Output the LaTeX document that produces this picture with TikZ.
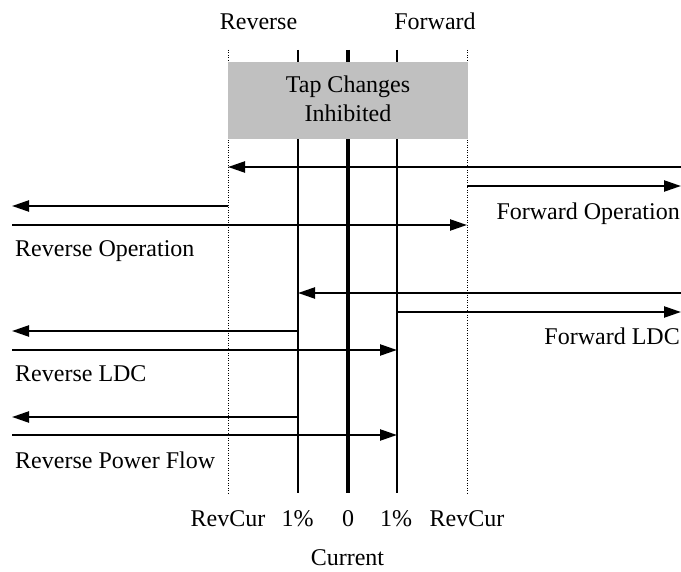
\documentclass[tikz,border=0pt]{standalone}
\usepackage{fontspec}
\setmainfont{Liberation Serif}
\usetikzlibrary{arrows.meta}
\begin{document}
\begin{tikzpicture}[x=1pt,y=-1pt,
  flow/.style={line width=2.3pt,-{Triangle[length=17pt,width=11pt]}},
  limit/.style={line width=1pt,dash pattern=on 1pt off 1.5pt},
  band/.style={line width=2pt},
  zero/.style={line width=3.5pt},
  lbl/.style={font=\fontsize{24}{29}\selectfont,inner sep=0pt}]
\useasboundingbox (0,0) rectangle (681,572);

% column positions (top and bottom of each threshold line)
\coordinate (rl-t) at (228,50);  \coordinate (rl-b) at (228,493);
\coordinate (pl-t) at (298,50);  \coordinate (pl-b) at (298,493);
\coordinate (z-t)  at (348,50);  \coordinate (z-b)  at (348,493);
\coordinate (pr-t) at (397,50);  \coordinate (pr-b) at (397,493);
\coordinate (rr-t) at (467,50);  \coordinate (rr-b) at (467,493);

% threshold lines
\draw[limit] (rl-t) -- (rl-b);
\draw[limit] (rr-t) -- (rr-b);
\draw[band] (pl-t) -- (pl-b);
\draw[band] (pr-t) -- (pr-b);
\draw[zero] (z-t) -- (z-b);

% dead band
\node[fill={rgb,255:red,192;green,192;blue,192},minimum width=240pt,minimum height=77pt,
      inner sep=0pt,anchor=north west] (dead) at (228,62) {};
\node[lbl,align=center] (deadtxt) at (348,99) {Tap Changes\\Inhibited};

% direction headings
\node[lbl,anchor=base] (hrev) at (258.5,30) {Reverse};
\node[lbl,anchor=base] (hfwd) at (435,30) {Forward};

% end points of the operating ranges
\coordinate (o1r) at (681,167); \coordinate (o1l) at (228,167);
\coordinate (o2l) at (467,186); \coordinate (o2r) at (681,186);
\coordinate (o3r) at (228,206); \coordinate (o3l) at (12,206);
\coordinate (o4l) at (12,225);  \coordinate (o4r) at (467,225);
\coordinate (d1r) at (681,293); \coordinate (d1l) at (298,293);
\coordinate (d2l) at (397,312); \coordinate (d2r) at (681,312);
\coordinate (d3r) at (298,331); \coordinate (d3l) at (12,331);
\coordinate (d4l) at (12,350);  \coordinate (d4r) at (397,350);
\coordinate (p1r) at (298,417); \coordinate (p1l) at (12,417);
\coordinate (p2l) at (12,435);  \coordinate (p2r) at (397,435);

% forward / reverse operation
\draw[flow] (o1r) -- (o1l);
\draw[flow] (o2l) -- (o2r);
\draw[flow] (o3r) -- (o3l);
\draw[flow] (o4l) -- (o4r);
\node[lbl,anchor=base east] (tfo) at (680,220) {Forward Operation};
\node[lbl,anchor=base west] (tro) at (15,257) {Reverse Operation};

% line drop compensation
\draw[flow] (d1r) -- (d1l);
\draw[flow] (d2l) -- (d2r);
\draw[flow] (d3r) -- (d3l);
\draw[flow] (d4l) -- (d4r);
\node[lbl,anchor=base east] (tfl) at (680,345) {Forward LDC};
\node[lbl,anchor=base west] (trl) at (15,382) {Reverse LDC};

% reverse power flow
\draw[flow] (p1r) -- (p1l);
\draw[flow] (p2l) -- (p2r);
\node[lbl,anchor=base west] (trp) at (15,468) {Reverse Power Flow};

% axis labels
\node[lbl,anchor=base] (x1) at (228,526) {RevCur};
\node[lbl,anchor=base] (x2) at (297.5,526) {1\%};
\node[lbl,anchor=base] (x3) at (348,526) {0};
\node[lbl,anchor=base] (x4) at (396,526) {1\%};
\node[lbl,anchor=base] (x5) at (467,526) {RevCur};
\node[lbl,anchor=base] (xt) at (347.5,565) {Current};
\end{tikzpicture}
\end{document}
